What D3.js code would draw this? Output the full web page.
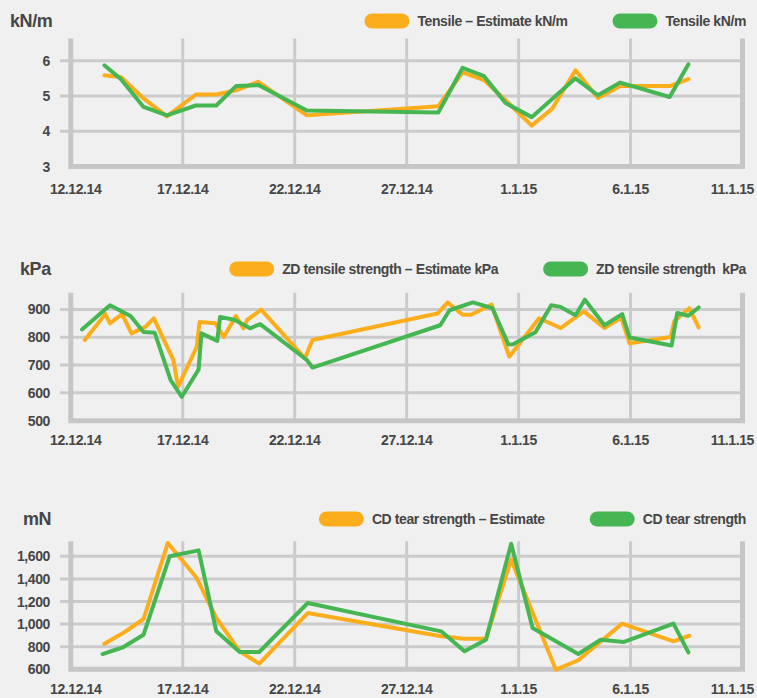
<!DOCTYPE html>
<html>
<head>
<meta charset="utf-8">
<script src="https://cdn.jsdelivr.net/npm/d3@7"></script>
<style>
  body { margin: 0; background: #f0f0f0; }
  svg { display: block; }
  text { font-family: 'Liberation Sans', Arial, sans-serif; font-weight: bold; fill: #464646; letter-spacing: -0.4px; }
</style>
</head>
<body>
<div id="chart"></div>
<script>
// date ticks, shared by all three panels
const dateTicks = ["2014-12-12", "2014-12-17", "2014-12-22", "2014-12-27", "2015-01-01", "2015-01-06", "2015-01-11"];

// --- Tensile kN/m
const tensileUnit = "kN/m";
const tensileLegend = ["Tensile \u2013 Estimate kN/m", "Tensile kN/m"];
const tensileTicks = [3, 4, 5, 6];
const tensileEstimate = [
  ["2014-12-13T12", 5.59], ["2014-12-14T06", 5.53], ["2014-12-15T06", 4.93], ["2014-12-16T07", 4.42],
  ["2014-12-17T14", 5.04], ["2014-12-18T12", 5.04], ["2014-12-19T09", 5.16], ["2014-12-20T09", 5.40],
  ["2014-12-22T13", 4.45], ["2014-12-28T10", 4.71], ["2014-12-29T12", 5.67], ["2014-12-30T11", 5.45],
  ["2014-12-31T10", 4.88], ["2015-01-01T14", 4.16], ["2015-01-02T12", 4.64], ["2015-01-03T13", 5.73],
  ["2015-01-04T13", 4.94], ["2015-01-05T13", 5.28], ["2015-01-07T18", 5.28], ["2015-01-08T14", 5.48]
];
const tensileActual = [
  ["2014-12-13T12", 5.87], ["2014-12-14T06", 5.47], ["2014-12-15T06", 4.69], ["2014-12-16T07", 4.45],
  ["2014-12-17T14", 4.73], ["2014-12-18T12", 4.73], ["2014-12-19T09", 5.28], ["2014-12-20T09", 5.31],
  ["2014-12-22T13", 4.59], ["2014-12-28T10", 4.53], ["2014-12-29T12", 5.80], ["2014-12-30T11", 5.56],
  ["2014-12-31T10", 4.80], ["2015-01-01T14", 4.40], ["2015-01-03T13", 5.50], ["2015-01-04T13", 5.02],
  ["2015-01-05T13", 5.38], ["2015-01-07T18", 4.97], ["2015-01-08T14", 5.90]
];

// --- ZD tensile strength kPa
const zdUnit = "kPa";
const zdLegend = ["ZD tensile strength \u2013 Estimate kPa", "ZD tensile strength\u00a0 kPa"];
const zdTicks = [500, 600, 700, 800, 900];
const zdEstimate = [
  ["2014-12-12T15", 790], ["2014-12-13T13", 883], ["2014-12-13T18", 850], ["2014-12-14T07", 883],
  ["2014-12-14T17", 814], ["2014-12-15T08", 837], ["2014-12-15T17", 868], ["2014-12-16T14", 718],
  ["2014-12-16T19", 622], ["2014-12-17T15", 765], ["2014-12-17T18", 855], ["2014-12-18T11", 850],
  ["2014-12-18T20", 801], ["2014-12-19T09", 876], ["2014-12-19T17", 832], ["2014-12-19T21", 862],
  ["2014-12-20T12", 899], ["2014-12-22T11", 724], ["2014-12-22T19", 790], ["2014-12-28T09", 885],
  ["2014-12-28T20", 925], ["2014-12-29T12", 881], ["2014-12-29T21", 881], ["2014-12-30T19", 917],
  ["2014-12-31T14", 730], ["2015-01-01T22", 868], ["2015-01-02T21", 833], ["2015-01-03T22", 893],
  ["2015-01-04T20", 833], ["2015-01-05T14", 870], ["2015-01-05T23", 778], ["2015-01-07T19", 801],
  ["2015-01-07T23", 858], ["2015-01-08T15", 904], ["2015-01-09T01", 835]
];
const zdActual = [
  ["2014-12-12T12", 828], ["2014-12-13T18", 915], ["2014-12-14T16", 876], ["2014-12-15T06", 819],
  ["2014-12-15T18", 816], ["2014-12-16T11", 646], ["2014-12-16T23", 586], ["2014-12-17T17", 684],
  ["2014-12-17T20", 814], ["2014-12-18T13", 787], ["2014-12-18T16", 873], ["2014-12-19T08", 862],
  ["2014-12-20T00", 832], ["2014-12-20T11", 847], ["2014-12-22T13", 718], ["2014-12-22T19", 691],
  ["2014-12-28T12", 843], ["2014-12-28T22", 897], ["2014-12-29T23", 925], ["2014-12-30T20", 904],
  ["2014-12-31T13", 774], ["2014-12-31T18", 775], ["2015-01-01T18", 818], ["2015-01-02T11", 915],
  ["2015-01-02T21", 909], ["2015-01-03T13", 879], ["2015-01-03T23", 935], ["2015-01-04T20", 843],
  ["2015-01-05T15", 883], ["2015-01-05T23", 799], ["2015-01-07T20", 770], ["2015-01-08T02", 887],
  ["2015-01-08T14", 877], ["2015-01-09T01", 907]
];

// --- CD tear strength mN
const cdUnit = "mN";
const cdLegend = ["CD tear strength \u2013 Estimate", "CD tear strength"];
const cdTicks = [600, 800, 1000, 1200, 1400, 1600];
const cdEstimate = [
  ["2014-12-13T12", 827], ["2014-12-14T08", 921], ["2014-12-15T06", 1045], ["2014-12-16T08", 1718],
  ["2014-12-17T15", 1408], ["2014-12-18T12", 1054], ["2014-12-19T13", 759], ["2014-12-20T10", 650],
  ["2014-12-22T14", 1098], ["2014-12-28T13", 892], ["2014-12-29T14", 871], ["2014-12-30T13", 871],
  ["2014-12-31T16", 1570], ["2015-01-02T16", 597], ["2015-01-03T16", 680], ["2015-01-05T15", 1004],
  ["2015-01-07T22", 848], ["2015-01-08T15", 897]
];
const cdActual = [
  ["2014-12-13T10", 735], ["2014-12-14T08", 795], ["2014-12-15T06", 906], ["2014-12-16T10", 1600],
  ["2014-12-17T17", 1653], ["2014-12-18T12", 936], ["2014-12-19T13", 753], ["2014-12-20T10", 753],
  ["2014-12-22T14", 1187], ["2014-12-28T13", 936], ["2014-12-29T14", 759], ["2014-12-30T13", 862],
  ["2014-12-31T16", 1712], ["2015-01-01T15", 965], ["2015-01-03T16", 735], ["2015-01-04T16", 862],
  ["2015-01-05T17", 842], ["2015-01-07T22", 1004], ["2015-01-08T14", 750]
];

const colors = ["#fbad1b", "#46b653"];
const W = 757, H = 698;
const parseDay = d3.timeParse("%Y-%m-%d");
const parseT = d3.timeParse("%Y-%m-%dT%H");
const fmtDay = d3.timeFormat("%-d.%-m.%y");

const svg = d3.select("#chart").append("svg").attr("width", W).attr("height", H);

const x = d3.scaleTime()
  .domain([parseDay(dateTicks[0]), parseDay(dateTicks[dateTicks.length - 1])])
  .range([70.8, 742.5]);

const panels = [
  { unit: tensileUnit, unitX: 10, legend: tensileLegend, ticks: tensileTicks, max: 6.63, fmt: d3.format("d"),
    series: [tensileEstimate, tensileActual], top: 38.5, bottom: 166.5, legendY: 21, labelDy: 27 },
  { unit: zdUnit, unitX: 20, legend: zdLegend, ticks: zdTicks, max: 960, fmt: d3.format("d"),
    series: [zdEstimate, zdActual], top: 292.7, bottom: 420.7, legendY: 269, labelDy: 24.5 },
  { unit: cdUnit, unitX: 23, legend: cdLegend, ticks: cdTicks, max: 1733, fmt: d3.format(","),
    series: [cdEstimate, cdActual], top: 541.3, bottom: 669.3, legendY: 519, labelDy: 24.5 }
];

panels.forEach(function (p) {
  let g = svg.append("g");
  let y = d3.scaleLinear().domain([p.ticks[0], p.max]).range([p.bottom, p.top]);

  // horizontal grid
  g.selectAll(".hgrid").data(p.ticks.slice(1)).enter().append("line")
    .attr("x1", 60).attr("x2", x.range()[1])
    .attr("y1", d => y(d)).attr("y2", d => y(d))
    .style("stroke", "#cbcbcb").style("stroke-width", 3);

  // vertical grid
  g.selectAll(".vgrid").data(dateTicks.slice(1, -1)).enter().append("line")
    .attr("x1", d => x(parseDay(d))).attr("x2", d => x(parseDay(d)))
    .attr("y1", p.top).attr("y2", p.bottom)
    .style("stroke", "#cbcbcb").style("stroke-width", 3);

  // frame: left, right, bottom
  g.append("path")
    .attr("d", "M" + x.range()[0] + "," + p.top + "V" + p.bottom + "H" + x.range()[1] + "V" + p.top)
    .style("fill", "none").style("stroke", "#c6c6c6").style("stroke-width", 5);

  // y tick labels
  g.selectAll(".ylab").data(p.ticks).enter().append("text")
    .attr("x", 50).attr("y", d => y(d)).attr("dy", "0.36em")
    .style("text-anchor", "end").style("font-size", "14px")
    .text(d => p.fmt(d));

  // x tick labels, kept inside the page at both ends
  g.selectAll(".xlab").data(dateTicks).enter().append("text")
    .attr("y", p.bottom + p.labelDy)
    .style("font-size", "14px")
    .text(d => fmtDay(parseDay(d)))
    .each(function (d) {
      let w = this.getComputedTextLength();
      let left = Math.max(50, Math.min(x(parseDay(d)) - w / 2, 754 - w));
      d3.select(this).attr("x", left);
    });

  // unit
  g.append("text").attr("x", p.unitX).attr("y", p.legendY).attr("dy", "0.36em")
    .style("font-size", "18px").text(p.unit);

  // lines
  let line = d3.line().x(d => x(parseT(d[0]))).y(d => y(d[1]));
  p.series.forEach(function (s, i) {
    g.append("path").datum(s).attr("d", line)
      .style("fill", "none").style("stroke", colors[i]).style("stroke-width", 4)
      .style("stroke-linejoin", "round").style("stroke-linecap", "round");
  });

  // legend, right aligned
  let right = 746;
  for (let i = p.legend.length - 1; i >= 0; i--) {
    let t = g.append("text").attr("y", p.legendY).attr("dy", "0.36em")
      .style("font-size", "14px").text(p.legend[i]);
    let w = t.node().getComputedTextLength();
    t.attr("x", right - w);
    g.append("rect")
      .attr("x", right - w - 8 - 45).attr("y", p.legendY - 7.5)
      .attr("width", 45).attr("height", 15).attr("rx", 7.5)
      .style("fill", colors[i]);
    right = right - w - 8 - 45 - 45;
  }
});
</script>
</body>
</html>
